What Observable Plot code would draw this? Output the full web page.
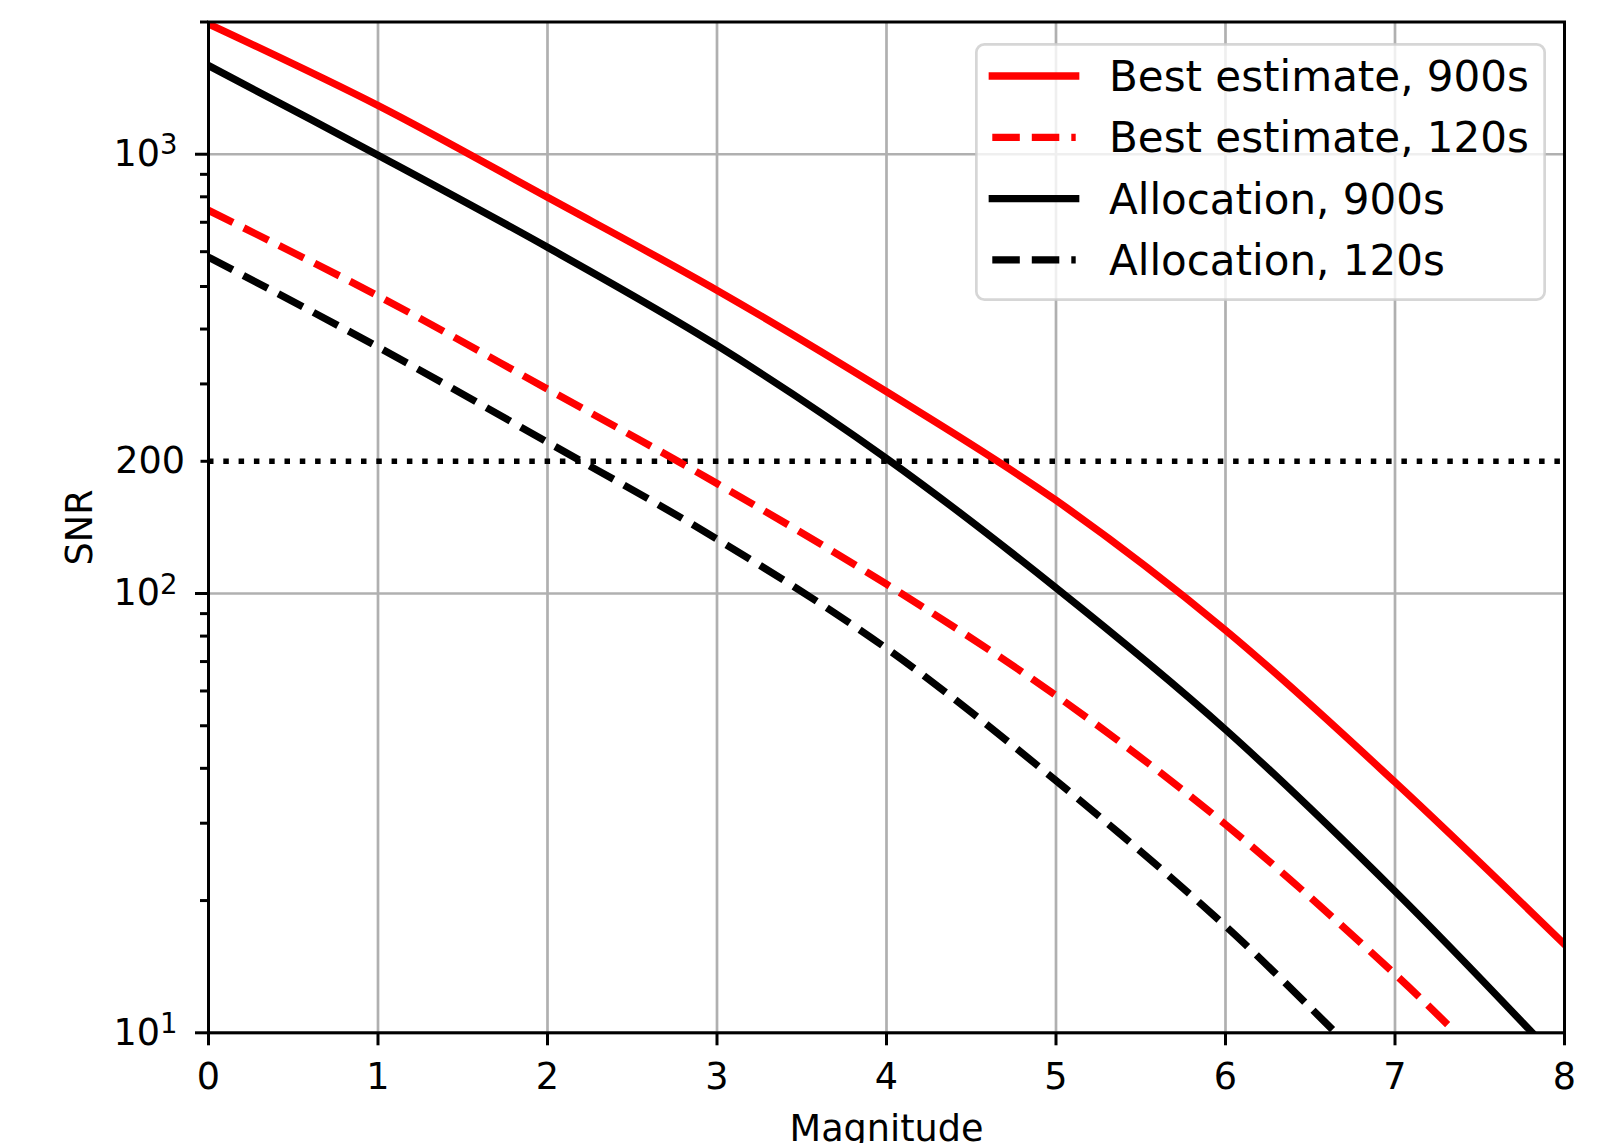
<!DOCTYPE html>
<html>
<head>
<meta charset="utf-8">
<script src="https://cdn.jsdelivr.net/npm/d3@7"></script>
<script src="https://cdn.jsdelivr.net/npm/@observablehq/plot@0.6"></script>
<style>
  html, body { margin: 0; padding: 0; background: #fff; }
  #wrap { position: relative; width: 1615px; height: 1143px; overflow: hidden; background: #fff; }
  #legend { position: absolute; left: 975px; top: 43px; }
</style>
</head>
<body>
<div id="wrap"></div>
<script>
// ---------------- data ----------------
const magnitudeBest900 = [0, 1, 2, 3, 4, 5, 6, 7, 8];
const snrBest900       = [1980, 1291, 798, 490, 288, 163, 82.5, 37.2, 15.9];

const magnitudeBest120 = [0, 1, 2, 3, 4, 5, 6, 7, 7.36];
const snrBest120       = [745, 476, 292, 178, 105, 58.6, 29.8, 13.6, 10];

const magnitudeAlloc900 = [0, 1, 2, 3, 4, 5, 6, 7, 7.81];
const snrAlloc900       = [1592, 995, 614, 367, 203, 103, 49, 21, 10];

const magnitudeAlloc120 = [0, 1, 2, 3, 4, 5, 6, 6.65];
const snrAlloc120       = [583, 364, 221, 133, 75, 37.5, 17.5, 10];

const snrThreshold = 200;

const seriesNames = ["Best estimate, 900s", "Best estimate, 120s", "Allocation, 900s", "Allocation, 120s"];
const seriesColors = ["#ff0000", "#ff0000", "#000000", "#000000"];
const seriesDashed = [false, true, false, true];

const xTicks = [0, 1, 2, 3, 4, 5, 6, 7, 8];
const yMajorTicks = [10, 100, 1000];
const yMinorTicks = [20, 30, 40, 50, 60, 70, 80, 90, 300, 400, 500, 600, 700, 800, 900, 2000];
const yExtraLabelTicks = [200];

// ---------------- table ----------------
const seriesX = [magnitudeBest900, magnitudeBest120, magnitudeAlloc900, magnitudeAlloc120];
const seriesY = [snrBest900, snrBest120, snrAlloc900, snrAlloc120];
const rows = seriesNames.flatMap((name, i) =>
  seriesX[i].map((m, j) => ({series: name, magnitude: m, snr: seriesY[i][j]}))
);

// ---------------- styling ----------------
const LW = 7.3;
const DASH = "27.5,12";
const GRID = {stroke: "#b0b0b0", strokeOpacity: 1, strokeWidth: 2.7};
const FONT = "'DejaVu Sans', 'Liberation Sans', sans-serif";

const lineMarks = seriesNames.map((name, i) =>
  Plot.line(rows, {
    filter: d => d.series === name,
    x: "magnitude",
    y: "snr",
    stroke: seriesColors[i],
    strokeWidth: LW,
    strokeDasharray: seriesDashed[i] ? DASH : null,
    strokeLinecap: seriesDashed[i] ? "butt" : "square",
    strokeLinejoin: "round",
    curve: "catmull-rom",
    clip: true
  })
);

const chart = Plot.plot({
  width: 1615,
  height: 1143,
  marginLeft: 208,
  marginRight: 51,
  marginTop: 21.5,
  marginBottom: 110.7,
  style: {fontFamily: FONT, fontSize: "36.6px", background: "white", color: "black", overflow: "hidden"},
  x: {domain: [0, 8]},
  y: {type: "log", domain: [10, 2000]},
  marks: [
    Plot.gridX(xTicks, GRID),
    Plot.gridY(yMajorTicks, GRID),
    Plot.ruleY([snrThreshold], {stroke: "black", strokeWidth: 5.5, strokeDasharray: "5.5,9.8"}),
    ...lineMarks,
    Plot.frame({stroke: "black", strokeWidth: 3}),
    Plot.axisX(xTicks, {
      tickSize: 13, tickPadding: 17, strokeWidth: 3,
      tickFormat: d => String(d),
      label: "Magnitude", labelAnchor: "center", labelArrow: "none", labelOffset: 108,
      fontSize: 36.6
    }),
    Plot.axisY(yMinorTicks, {tickSize: 8, strokeWidth: 3, tickFormat: () => "", label: null}),
    Plot.axisY(yExtraLabelTicks, {tickSize: 7.5, tickPadding: 16, strokeWidth: 3, tickFormat: d => String(d), label: null, fontSize: 36.6}),
    Plot.axisY(yMajorTicks, {
      tickSize: 13, tickPadding: 18, strokeWidth: 3,
      tickFormat: d => "10^" + Math.round(Math.log10(d)),
      label: "SNR", labelAnchor: "center", labelArrow: "none", labelOffset: 143,
      fontSize: 36.6
    })
  ]
});

document.getElementById("wrap").appendChild(chart);

// superscript powers of ten on the y axis
d3.select(chart).selectAll("text").each(function () {
  const t = this.textContent;
  const m = /^10\^(\d+)$/.exec(t);
  if (m) {
    const sel = d3.select(this);
    sel.text("10");
    sel.append("tspan").attr("dy", "-11.5").attr("font-size", "27.5px").text(m[1]);
  }
});

// ---------------- legend (overlay) ----------------
const legendW = 571, legendH = 258;
const leg = d3.select("#wrap").append("svg")
  .attr("id", "legend")
  .attr("width", legendW).attr("height", legendH)
  .style("font-family", FONT);
leg.append("rect")
  .attr("x", 1.35).attr("y", 1.35)
  .attr("width", legendW - 2.7).attr("height", legendH - 2.7)
  .attr("rx", 8).attr("ry", 8)
  .attr("fill", "white").attr("fill-opacity", 0.8)
  .attr("stroke", "#cccccc").attr("stroke-opacity", 0.8).attr("stroke-width", 2.7);
const rowY = i => 33 + i * 61.3;
seriesNames.forEach((name, i) => {
  leg.append("line")
    .attr("x1", 17.3).attr("x2", 100.7)
    .attr("y1", rowY(i)).attr("y2", rowY(i))
    .attr("stroke", seriesColors[i]).attr("stroke-width", LW)
    .attr("stroke-dasharray", seriesDashed[i] ? DASH : null)
    .attr("stroke-linecap", seriesDashed[i] ? "butt" : "square");
  leg.append("text")
    .attr("x", 134).attr("y", rowY(i) + 15)
    .attr("font-size", "42px").attr("fill", "black")
    .text(name);
});
</script>
</body>
</html>
